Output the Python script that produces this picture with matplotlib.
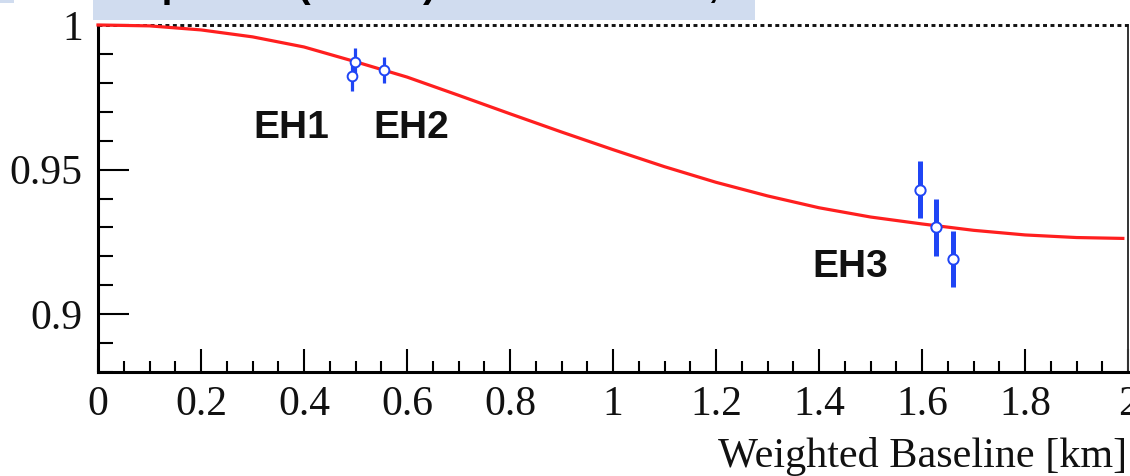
import matplotlib
matplotlib.use("Agg")
import matplotlib.pyplot as plt
from matplotlib.patches import Rectangle
from matplotlib.ticker import MultipleLocator, FixedLocator

# ---- data ----
curve_x = [0.0, 0.1, 0.2, 0.3, 0.4, 0.5, 0.6, 0.7, 0.8, 0.9, 1.0,
           1.1, 1.2, 1.3, 1.4, 1.5, 1.6, 1.7, 1.8, 1.9, 1.99]
curve_y = [1.0, 0.9997, 0.9983, 0.9959, 0.9924, 0.9873, 0.9820, 0.9757,
           0.9693, 0.9630, 0.9569, 0.9510, 0.9456, 0.9409, 0.9368, 0.9336,
           0.9312, 0.9290, 0.9274, 0.9265, 0.9262]

near_x = [0.493, 0.499, 0.555]
near_y = [0.9824, 0.9872, 0.9845]
near_err = [0.0053, 0.0049, 0.0045]

far_x = [1.596, 1.627, 1.660]
far_y = [0.9431, 0.9300, 0.9190]
far_err = [0.0100, 0.0098, 0.0097]

hall_labels = ["EH1", "EH2", "EH3"]
hall_x = [0.3757, 0.6078, 1.460]
hall_y = [0.9610, 0.9610, 0.9128]

xticks = [0, 0.2, 0.4, 0.6, 0.8, 1.0, 1.2, 1.4, 1.6, 1.8, 2.0]
xticklabels = ["0", "0.2", "0.4", "0.6", "0.8", "1", "1.2", "1.4", "1.6", "1.8", "2"]
yticks = [0.9, 0.95, 1.0]
yticklabels = ["0.9", "0.95", "1"]
xlabel = "Weighted Baseline [km]"
banner_text = "Expected (Model) Ratios to Near,"

W, H = 1130, 476
fig = plt.figure(figsize=(W / 100, H / 100), dpi=100)
fig.patch.set_facecolor("white")

# banner box at top (partly cut off)
banner = Rectangle((93 / W, 1 - 20 / H), (755 - 93) / W, 20 / H + 0.01,
                   transform=fig.transFigure, facecolor="#d0dcef",
                   edgecolor="none", zorder=0)
fig.patches.append(banner)
fig.patches.append(Rectangle((0, 1 - 3 / H), 14 / W, 3 / H + 0.01,
                             transform=fig.transFigure, facecolor="#d0dcef",
                             edgecolor="none", zorder=0))
bt = fig.text(114 / W, 1 + 3 / H, banner_text, ha="left", va="baseline",
              fontsize=28, fontweight="bold", family="Liberation Sans",
              color="black")
bt.set_clip_path(banner)

ax = fig.add_axes([98 / W, 1 - 372 / H, (1128 - 98) / W, (372 - 25) / H])
ax.set_xlim(0, 2)
ax.set_ylim(0.88, 1.0)

serif = "Liberation Serif"

# dotted reference line at 1
ax.axhline(1.0, color="#111111", lw=2.1, ls=(0, (1.35, 1.2)), clip_on=False, zorder=3)

# red expectation curve
ax.plot(curve_x, curve_y, color="#ff1f1f", lw=2.3, clip_on=False, zorder=4,
        solid_joinstyle="round")

blue = "#1f45f5"
ax.errorbar(near_x, near_y, yerr=near_err, fmt="o", color=blue, ecolor=blue,
            elinewidth=2.3, capsize=0, ms=7, mfc="white", mec=blue, mew=1.4,
            zorder=5)
ax.errorbar(far_x, far_y, yerr=far_err, fmt="o", color=blue, ecolor=blue,
            elinewidth=3.6, capsize=0, ms=7.4, mfc="white", mec=blue, mew=1.4,
            zorder=5)

for lab, hx, hy in zip(hall_labels, hall_x, hall_y):
    ax.text(hx, hy, lab, ha="center", va="baseline", fontsize=28,
            fontweight="bold", family="Liberation Sans", color="#111111")

# axes styling
ax.spines["top"].set_visible(False)
ax.spines["left"].set_linewidth(2.2)
ax.spines["bottom"].set_linewidth(2.2)
ax.spines["right"].set_linewidth(1.4)
ax.spines["right"].set_color("#333333")

ax.xaxis.set_major_locator(FixedLocator(xticks))
ax.set_xticklabels(xticklabels)
ax.xaxis.set_minor_locator(MultipleLocator(0.05))
ax.yaxis.set_major_locator(FixedLocator(yticks))
ax.set_yticklabels(yticklabels)
ax.yaxis.set_minor_locator(MultipleLocator(0.01))

ax.tick_params(axis="x", which="major", direction="in", length=16.5, width=1.5,
               pad=10, labelsize=30, top=False)
ax.tick_params(axis="x", which="minor", direction="in", length=8, width=1.5, top=False)
ax.tick_params(axis="y", which="major", direction="in", length=22, width=1.5,
               pad=11, labelsize=30, right=False)
ax.tick_params(axis="y", which="minor", direction="in", length=11, width=1.5, right=False)
for lbl in ax.get_xticklabels() + ax.get_yticklabels():
    lbl.set_family(serif)
    lbl.set_color("#111111")

fig.text(1127 / W, 1 - 467 / H, xlabel, ha="right", va="baseline",
         fontsize=30.4, family=serif, color="#111111")

fig.savefig("out.png", dpi=100)
